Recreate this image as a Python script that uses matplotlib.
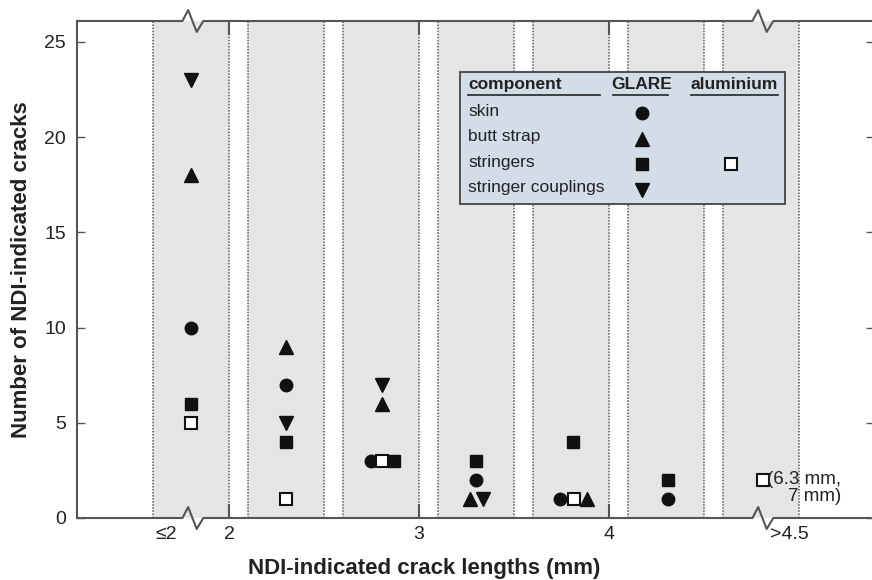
import numpy as np
import matplotlib
matplotlib.use("Agg")
import matplotlib.pyplot as plt

plt.rcParams["font.family"] = ["Liberation Sans", "DejaVu Sans"]

# centre of each crack-length band (mm), one band per bin
bins = [1.8, 2.3, 2.8, 3.3, 3.8, 4.3, 4.8]
band_width = 0.4

# number of NDI-indicated cracks per band (None = no crack)
skin = [10, 7, 3, 2, 1, 1, None]
butt_strap = [18, 9, 6, 1, 1, None, None]
stringers = [6, 4, 3, 3, 4, 2, None]
couplings = [23, 5, 7, 1, None, None, None]
alu_stringers = [5, 1, 3, None, 1, None, 2]

# small sideways nudges so coinciding markers don't overlap
skin_dx = [0, 0, -0.055, 0, -0.058, 0.01, 0]
butt_dx = [0, 0, 0.005, -0.032, 0.084, 0, 0]
str_dx = [0, 0, 0.07, 0, 0.01, 0.01, 0]
coup_dx = [0, 0, 0.005, 0.037, 0, 0, 0]
alu_dx = [0, 0, 0.005, 0, 0.016, 0, 0.01]

major_ticks = [2, 3, 4]
major_labels = ["2", "3", "4"]
end_ticks = [1.67, 4.95]
end_labels = ["≤2", ">4.5"]
yticks = [0, 5, 10, 15, 20, 25]
breaks = [1.81, 4.81]

GREY = "#555555"
INK = "#111111"
TXT = "#222222"

fig = plt.figure(figsize=(8.72, 5.80), dpi=100)
ax = fig.add_axes([77 / 872, 62 / 580, 797 / 872, 497 / 580])
ax.set_xlim(1.2, 2 + 645 / 190)
ax.set_ylim(0, 26.1)

# grey bands with dotted edges
for c in bins:
    lo, hi = c - band_width / 2, c + band_width / 2
    ax.axvspan(lo, hi, color="#e5e5e5", zorder=0, lw=0)
    for e in (lo, hi):
        ax.axvline(e, color="#5a5a5a", ls=(0, (1, 1)), lw=1.1, zorder=1)

series = [
    (skin, skin_dx, "o", 9, INK),
    (butt_strap, butt_dx, "^", 10, INK),
    (stringers, str_dx, "s", 8, INK),
    (couplings, coup_dx, "v", 10, INK),
    (alu_stringers, alu_dx, "s", 8, "white"),
]
for vals, dx, mk, ms, fc in series:
    xs = [b + d for b, d, v in zip(bins, dx, vals) if v is not None]
    ys = [v for v in vals if v is not None]
    ax.plot(xs, ys, ls="none", marker=mk, ms=ms, mfc=fc, mec=INK,
            mew=1.5 if fc == "white" else 1, zorder=4)

ax.text(2 + 612 / 190, 1.6, "(6.3 mm,\n7 mm)", ha="right", va="center",
        fontsize=13.5, color=TXT, linespacing=1.0, zorder=5)

# spines: left solid, top/bottom redrawn with break marks
for s in ("top", "bottom", "right"):
    ax.spines[s].set_visible(False)
ax.spines["left"].set_color(GREY)
ax.spines["left"].set_linewidth(1.5)

xt = ax.get_xaxis_transform()
x0, x1 = ax.get_xlim()
for ybase in (0, 1):
    px = [x0]
    py = [ybase]
    for b in breaks:
        px += [b - 0.055, b - 0.025, b + 0.02, b + 0.055]
        py += [ybase, ybase + 0.022, ybase - 0.022, ybase]
    px.append(x1)
    py.append(ybase)
    ax.plot(px, py, color=GREY, lw=1.5, transform=xt, clip_on=False, zorder=6)

ax.set_xticks(major_ticks)
ax.set_xticklabels(major_labels)
ax.set_xticks(end_ticks, minor=True)
ax.set_xticklabels(end_labels, minor=True)
ax.set_yticks(yticks)
ax.tick_params(axis="x", which="major", direction="in", length=10, width=1.5,
               color=GREY, top=True, labelsize=14, pad=6, labelcolor=TXT)
ax.tick_params(axis="x", which="minor", length=0, labelsize=14, pad=6,
               labelcolor=TXT)
ax.tick_params(axis="y", direction="in", length=6, width=1, color=GREY,
               right=True, labelsize=14, pad=8, labelcolor=TXT)

ax.set_xlabel("NDI-indicated crack lengths (mm)", fontsize=16,
              fontweight="bold", color=TXT)
ax.xaxis.set_label_coords(0.435, -0.08)
ax.set_ylabel("Number of NDI-indicated cracks", fontsize=16,
              fontweight="bold", color=TXT)
ax.yaxis.set_label_coords(-0.056, 0.5)

# hand-built legend table
T = ax.transAxes
box = plt.Rectangle((0.481, 0.632), 0.407, 0.265, transform=T,
                    facecolor="#d3dde8", edgecolor="#444444", lw=1.3, zorder=7)
ax.add_patch(box)
hdr_y = 0.873
ax.text(0.491, hdr_y, "component", transform=T, fontsize=12.5,
        fontweight="bold", va="center", zorder=8, color=TXT)
ax.text(0.709, hdr_y, "GLARE", transform=T, fontsize=12.5,
        fontweight="bold", va="center", ha="center", zorder=8, color=TXT)
ax.text(0.825, hdr_y, "aluminium", transform=T, fontsize=12.5,
        fontweight="bold", va="center", ha="center", zorder=8, color=TXT)
for a, b in ((0.491, 0.656), (0.672, 0.742), (0.771, 0.879)):
    ax.plot([a, b], [0.851, 0.851], color="#333333", lw=1.3, transform=T,
            zorder=8)

rows = ["skin", "butt strap", "stringers", "stringer couplings"]
row_y = [0.818, 0.767, 0.716, 0.664]
row_mk = [("o", 9), ("^", 10), ("s", 8), ("v", 10)]
for name, y, (mk, ms) in zip(rows, row_y, row_mk):
    ax.text(0.491, y, name, transform=T, fontsize=12.5, va="center",
            zorder=8, color=TXT)
    ax.plot([0.709], [y - 0.004], marker=mk, ms=ms, color=INK, ls="none",
            transform=T, zorder=8)
ax.plot([0.821], [0.712], marker="s", ms=8, mfc="white", mec=INK, mew=1.5,
        ls="none", transform=T, zorder=8)

fig.savefig("out.png", dpi=100)
